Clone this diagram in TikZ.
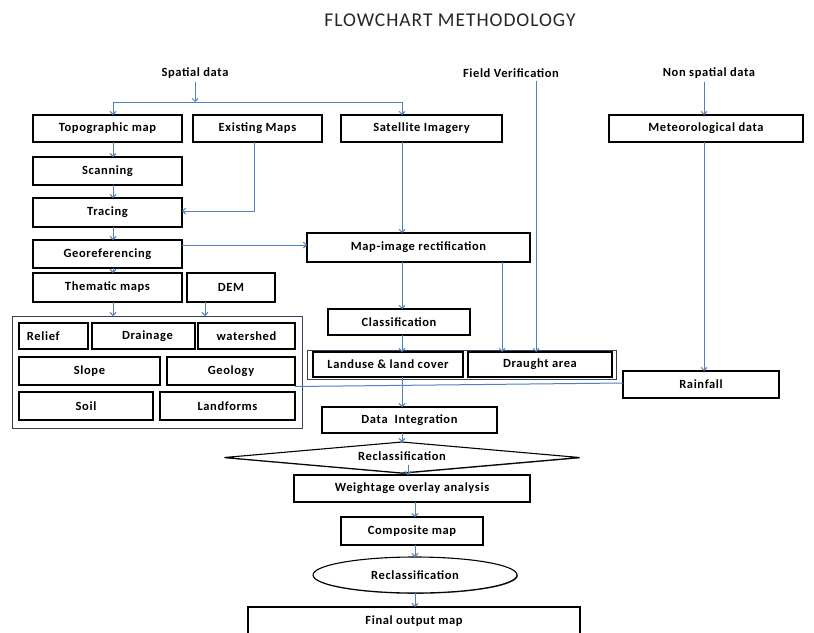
\documentclass[tikz,border=0pt]{standalone}
\usepackage{fontspec}
\setmainfont{Carlito}[LetterSpace=5]
\usetikzlibrary{arrows.meta,shapes.geometric,shadows}
\definecolor{arrblue}{RGB}{79,129,189}
\definecolor{frame}{RGB}{55,65,85}
\newcommand{\mybox}[7][]{\node[box,#1,minimum width={(#5)-(#3)},minimum height={(#6)-(#4)}] (#2) at ({((#3)+(#5))/2},{((#4)+(#6))/2}) {#7};}
\tikzset{
  box/.style={draw=black,line width=1.1pt,fill=white,inner sep=0pt,outer sep=0pt,
    font=\bfseries\fontsize{12.5}{14}\selectfont,
    general shadow={shadow xshift=0.8pt,shadow yshift=-0.8pt,fill=black!70}},
  lbl/.style={inner sep=0pt,font=\bfseries\fontsize{12.5}{14}\selectfont},
  arr/.style={draw=arrblue,line width=1pt,-{Straight Barb[length=3pt,width=6pt]}},
  conn/.style={draw=arrblue,line width=1pt},
  frm/.style={draw=frame,line width=0.8pt}
}
\begin{document}
\begin{tikzpicture}[x=1pt,y=-1pt]
\useasboundingbox (0,0) rectangle (814,632);
\fill[white] (0,0) rectangle (814,632);
\clip (0,0) rectangle (814,632);
% title
\node[inner sep=0pt,font=\fontsize{19.5}{22}\selectfont,text=black!85] (title) at (450,20) {FLOWCHART METHODOLOGY};
% input labels
\node[lbl] (spatial) at (195,73) {Spatial data};
\node[lbl] (field) at (511,73) {Field Verification};
\node[lbl] (nonsp) at (709,73) {Non spatial data};
% big frame and landuse frame
\draw[frm] (12,316) rectangle (302,428);
\draw[frm] (307,350) rectangle (616,379);
% boxes
\mybox{topo}{33}{115}{182}{142}{Topographic map}
\mybox{exist}{193}{115}{322}{142}{Existing Maps}
\mybox{sat}{341}{115}{502}{142}{Satellite Imagery}
\mybox{met}{609}{115}{803}{142}{Meteorological data}
\mybox{scan}{33}{157}{182}{185}{Scanning}
\mybox{trace}{33}{198}{182}{227}{Tracing}
\mybox{geo}{33}{240}{182}{268}{Georeferencing}
\mybox{mapimg}{307}{233}{530}{262}{Map-image rectification}
\mybox{them}{33}{273}{182}{302}{Thematic maps}
\mybox{dem}{187}{273}{275}{302}{DEM}
\mybox[align=left,text width=53pt]{relief}{19}{323}{88}{349}{Relief}
\mybox{drain}{92}{323}{195}{349}{\hspace*{8pt}Drainage}
\mybox{water}{198}{323}{295}{349}{watershed}
\mybox{slope}{19}{357}{160}{385}{Slope}
\mybox{geol}{167}{357}{295}{385}{Geology}
\mybox{soil}{19}{392}{153}{420}{Soil}
\mybox{landf}{160}{392}{295}{420}{Landforms}
\mybox{class}{328}{309}{470}{335}{Classification}
\mybox{landuse}{313}{352}{463}{377}{Landuse \& land cover}
\mybox{draught}{468}{352}{612}{377}{Draught area}
\mybox{rain}{623}{371}{779}{398}{Rainfall}
\mybox{dataint}{322}{407}{497}{433}{Data\ \ Integration}
\node[box,shape=diamond,shape aspect=11,minimum width=355pt,minimum height=31pt] (recl1) at (402,457.5) {\raisebox{2pt}{Reclassification}};
\mybox{weight}{294}{475}{530}{502}{Weightage overlay analysis}
\mybox{comp}{341}{517}{483}{545}{Composite map}
\node[box,shape=ellipse,minimum width=204pt,minimum height=36pt] (recl2) at (415,575) {Reclassification};
\mybox{final}{248}{607}{580}{647}{\raisebox{13pt}{Final output map}}
% coordinates
\coordinate (j1) at (113,102);
\coordinate (j2) at (402,102);
\coordinate (xs) at (195,0);
\coordinate (xe) at (254,0);
\coordinate (xf) at (536,0);
\coordinate (xn) at (704,0);
\coordinate (xd) at (502,0);
\coordinate (xt) at (205,0);
\coordinate (xw) at (408,0);
\coordinate (xc) at (415,0);
% connectors
\draw[arr] (spatial.south -| xs) ++(0,3) -- (j1 -| xs);
\draw[conn] (j1) -- (j2);
\draw[arr] (j1) -- (topo.north -| j1);
\draw[arr] (j2) -- (sat.north -| j2);
\draw[arr] (topo.south -| j1) -- (scan.north -| j1);
\draw[arr] (scan.south -| j1) -- (trace.north -| j1);
\draw[arr] (exist.south -| xe) |- ([yshift=1.5pt]trace.east);
\draw[arr] (trace.south -| j1) -- (geo.north -| j1);
\draw[arr] (geo.east |- 0,245) -- (mapimg.west |- 0,245);
\draw[arr] (sat.south -| j2) -- (mapimg.north -| j2);
\draw[arr] (geo.south -| j1) -- (them.north -| j1);
\draw[arr] (them.south -| j1) -- (j1 |- 0,316);
\draw[arr] (dem.south -| xt) -- (xt |- 0,316);
\draw[arr] (field.south -| xf) ++(0,3) -- (draught.north -| xf);
\draw[arr] (nonsp.south -| xn) ++(0,3) -- (met.north -| xn);
\draw[arr] (met.south -| xn) -- (rain.north -| xn);
\draw[arr] (mapimg.south -| j2) -- (class.north -| j2);
\draw[arr] (mapimg.south -| xd) -- (draught.north -| xd);
\draw[arr] (class.south -| j2) -- (landuse.north -| j2);
\draw[arr] (landuse.south -| j2) -- (dataint.north -| j2);
\draw[conn] ([yshift=1.5pt]rain.west) -- (geol.east |- 0,386.5);
\draw[arr] (dataint.south -| j2) -- (recl1.north);
\draw[arr] (recl1.south -| xw) ++(0,-8) -- (weight.north -| xw);
\draw[arr] (weight.south -| xc) -- (comp.north -| xc);
\draw[arr] (comp.south -| xc) -- (recl2.north -| xc);
\draw[arr] (recl2.south -| xc) -- (final.north -| xc);
\end{tikzpicture}
\end{document}
